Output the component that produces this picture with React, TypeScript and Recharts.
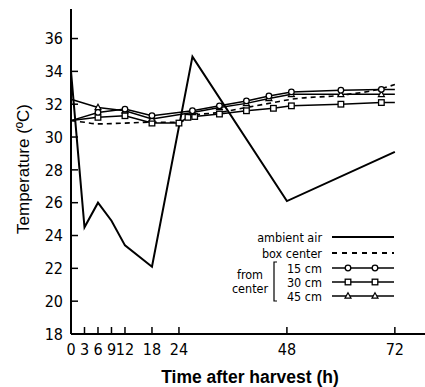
import React from 'react';
import { LineChart, Line, XAxis, YAxis } from 'recharts';

// hours after harvest
const ambientHours = [0, 3, 6, 9, 12, 18, 27, 48, 72];
const ambientTemp = [34.0, 24.5, 26.0, 24.9, 23.4, 22.1, 34.9, 26.1, 29.1];

const centerHours = [0, 3, 6, 12, 18, 24, 27, 33, 39, 45, 49, 60, 69, 72];
const centerTemp = [31.0, 30.9, 30.8, 30.85, 30.9, 30.9, 31.3, 31.5, 31.8, 32.1, 32.3, 32.55, 32.95, 33.2];

const cm15Hours = [0, 6, 12, 18, 27, 33, 39, 44, 49, 60, 69, 72];
const cm15Temp = [31.0, 31.5, 31.7, 31.3, 31.6, 31.9, 32.2, 32.5, 32.75, 32.85, 32.9, 32.9];

const cm30Hours = [0, 6, 12, 18, 24, 26, 27.5, 33, 39, 45, 49, 60, 69, 72];
const cm30Temp = [31.0, 31.2, 31.3, 30.85, 30.85, 31.2, 31.25, 31.4, 31.6, 31.75, 31.9, 32.0, 32.1, 32.1];

const cm45Hours = [0, 6, 12, 18, 27, 33, 39, 44, 49, 60, 69, 72];
const cm45Temp = [32.3, 31.8, 31.6, 31.1, 31.5, 31.8, 32.05, 32.35, 32.6, 32.6, 32.6, 32.6];

const xTicks = [0, 3, 6, 9, 12, 18, 24, 48, 72];
const yTicks = [18, 20, 22, 24, 26, 28, 30, 32, 34, 36];

const zip = (hours: number[], temps: number[]) => hours.map((t, i) => ({ t, v: temps[i] }));

const ambient = zip(ambientHours, ambientTemp);
const boxCenter = zip(centerHours, centerTemp);
const cm15 = zip(cm15Hours, cm15Temp);
const cm30 = zip(cm30Hours, cm30Temp);
const cm45 = zip(cm45Hours, cm45Temp);

const FONT = "'DejaVu Sans Condensed', 'DejaVu Sans', sans-serif";

type Shape = 'circle' | 'square' | 'triangle';

const Marker = ({ shape, cx, cy }: { shape: Shape; cx: number; cy: number }) => {
    if (shape === 'circle') {
        return <circle cx={cx} cy={cy} r={2.8} fill="white" stroke="black" strokeWidth={1.3} />;
    }
    if (shape === 'square') {
        return <rect x={cx - 2.8} y={cy - 2.8} width={5.6} height={5.6} fill="white" stroke="black" strokeWidth={1.3} />;
    }
    return (
        <polygon
            points={`${cx},${cy - 3.2} ${cx + 3},${cy + 2.2} ${cx - 3},${cy + 2.2}`}
            fill="white"
            stroke="black"
            strokeWidth={1.2}
        />
    );
};

// no marker drawn at the first and last point of each series
const makeDot = (shape: Shape, n: number) => (props: any) => {
    const { cx, cy, index } = props;
    if (index === 0 || index === n - 1 || cx == null) return <g key={`d${shape}${index}`} />;
    return (
        <g key={`d${shape}${index}`}>
            <Marker shape={shape} cx={cx} cy={cy} />
        </g>
    );
};

const Legend = () => {
    const x1 = 332;
    const x2 = 394;
    const textX = 322;
    const rows: { label: string; y: number; shape?: Shape; dashed?: boolean }[] = [
        { label: 'ambient air', y: 237 },
        { label: 'box center', y: 253, dashed: true },
        { label: '15 cm', y: 268, shape: 'circle' },
        { label: '30 cm', y: 282, shape: 'square' },
        { label: '45 cm', y: 296, shape: 'triangle' },
    ];
    return (
        <g fontFamily={FONT} fontSize={12.5} fill="black">
            {rows.map((r) => (
                <g key={r.label}>
                    <text x={textX} y={r.y + 4.5} textAnchor="end">{r.label}</text>
                    <line
                        x1={x1}
                        y1={r.y}
                        x2={x2}
                        y2={r.y}
                        stroke="black"
                        strokeWidth={r.shape ? 1.5 : 2}
                        strokeDasharray={r.dashed ? '5 5' : undefined}
                    />
                    {r.shape && <Marker shape={r.shape} cx={348} cy={r.y} />}
                    {r.shape && <Marker shape={r.shape} cx={375} cy={r.y} />}
                </g>
            ))}
            <path d="M277,262 L274,262 L274,301 L277,301" fill="none" stroke="black" strokeWidth={1.2} />
            <text x={250} y={279} textAnchor="middle">from</text>
            <text x={250} y={293} textAnchor="middle">center</text>
        </g>
    );
};

const App = () => {
    return (
        <div style={{ position: 'absolute', left: 0, top: 0, width: 425, height: 387, background: 'white' }}>
            <LineChart
                width={425}
                height={387}
                margin={{ top: 9, right: 0, left: 0, bottom: 0 }}
            >
                <XAxis
                    xAxisId="top"
                    orientation="top"
                    dataKey="t"
                    type="number"
                    domain={[0, 78.7]}
                    height={0}
                    tick={false}
                    tickLine={false}
                    axisLine={{ stroke: 'black', strokeWidth: 2 }}
                />
                <XAxis
                    dataKey="t"
                    type="number"
                    domain={[0, 78.7]}
                    ticks={xTicks}
                    interval={0}
                    height={53}
                    tickSize={-7}
                    tickMargin={16.5}
                    tick={{ fill: 'black', fontSize: 16, fontFamily: FONT }}
                    tickLine={{ stroke: 'black', strokeWidth: 1.5 }}
                    axisLine={{ stroke: 'black', strokeWidth: 2 }}
                    allowDuplicatedCategory={false}
                />
                <YAxis
                    type="number"
                    domain={[18, 37.8]}
                    ticks={yTicks}
                    interval={0}
                    width={71}
                    tickSize={-7}
                    tickMargin={15}
                    tick={{ fill: 'black', fontSize: 16, fontFamily: FONT }}
                    tickLine={{ stroke: 'black', strokeWidth: 1.5 }}
                    axisLine={{ stroke: 'black', strokeWidth: 2 }}
                />
                <Line
                    data={ambient}
                    dataKey="v"
                    type="linear"
                    stroke="black"
                    strokeWidth={2}
                    dot={false}
                    isAnimationActive={false}
                />
                <Line
                    data={boxCenter}
                    dataKey="v"
                    type="monotone"
                    stroke="black"
                    strokeWidth={1.6}
                    strokeDasharray="5 4"
                    dot={false}
                    isAnimationActive={false}
                />
                <Line
                    data={cm30}
                    dataKey="v"
                    type="linear"
                    stroke="black"
                    strokeWidth={1.5}
                    dot={makeDot('square', cm30.length)}
                    isAnimationActive={false}
                />
                <Line
                    data={cm45}
                    dataKey="v"
                    type="linear"
                    stroke="black"
                    strokeWidth={1.5}
                    dot={makeDot('triangle', cm45.length)}
                    isAnimationActive={false}
                />
                <Line
                    data={cm15}
                    dataKey="v"
                    type="linear"
                    stroke="black"
                    strokeWidth={1.5}
                    dot={makeDot('circle', cm15.length)}
                    isAnimationActive={false}
                />
            </LineChart>
            <svg width={425} height={387} style={{ position: 'absolute', left: 0, top: 0, pointerEvents: 'none' }}>
                <Legend />
                <text
                    x={250}
                    y={383}
                    textAnchor="middle"
                    fontFamily="'Liberation Sans', Arial, sans-serif"
                    fontWeight="bold"
                    fontSize={17.5}
                >
                    Time after harvest (h)
                </text>
                <text
                    transform="translate(29,169) rotate(-90)"
                    textAnchor="middle"
                    fontFamily="'Liberation Sans', Arial, sans-serif"
                    fontSize={17}
                >
                    Temperature (ºC)
                </text>
            </svg>
        </div>
    );
};

export default App;
